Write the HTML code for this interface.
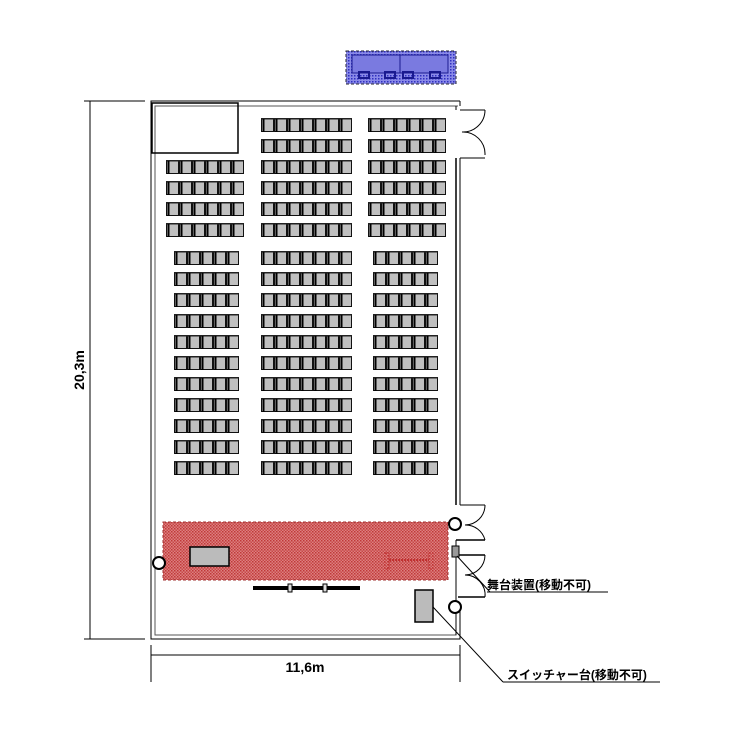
<!DOCTYPE html>
<html><head><meta charset="utf-8"><style>body{margin:0;background:#fff}svg{display:block}</style></head><body>
<svg width="750" height="750" viewBox="0 0 750 750" xmlns="http://www.w3.org/2000/svg">
<defs>
<pattern id="seat" width="13" height="21" patternUnits="userSpaceOnUse">
<rect x="0.5" y="0.5" width="12" height="13" fill="#c0c0c0" stroke="#111" stroke-width="1"/>
<rect x="0" y="0" width="13" height="1.5" fill="#222"/>
<rect x="1.5" y="1" width="2" height="13" fill="#000"/>
</pattern>
<pattern id="red" width="3" height="3" patternUnits="userSpaceOnUse">
<rect width="3" height="3" fill="#dc8080"/><rect width="1.5" height="1.5" fill="#c03838"/><rect x="1.5" y="1.5" width="1.5" height="1.5" fill="#c84848"/>
</pattern>
<pattern id="blue" width="3" height="3" patternUnits="userSpaceOnUse">
<rect width="3" height="3" fill="#8a8ae8"/><rect width="1.5" height="1.5" fill="#3030c0"/>
</pattern>
</defs>
<!-- blue -->
<rect x="346" y="51" width="110" height="33" fill="url(#blue)" stroke="#223" stroke-dasharray="3,2"/>
<rect x="352" y="55" width="96" height="18" fill="#7a7ae0" stroke="#1a1a90"/>
<line x1="400" y1="55" x2="400" y2="73" stroke="#1a1a90"/>
<g fill="none" stroke="#1a1a90" stroke-width="2"><rect x="359" y="72" width="10" height="6"/><rect x="385" y="72" width="10" height="6"/><rect x="403" y="72" width="10" height="6"/><rect x="430" y="72" width="10" height="6"/></g>
<!-- walls -->
<g fill="none" stroke="#000">
<path d="M460,101 H151 V639 H460 V610"/>
<path d="M458,106 H155 V635 H456 V610" stroke="#555"/>
<path d="M460,101 V106 M456,106 V110"/>
<line x1="456" y1="158" x2="456" y2="505" stroke-width="1.5"/>
<line x1="460" y1="158" x2="460" y2="505"/>
<line x1="460" y1="158" x2="485" y2="158"/><line x1="460" y1="110" x2="485" y2="110"/>
<path d="M485,110 A22,22 0 0 1 462,132 A22,22 0 0 1 485,155"/>
<line x1="460" y1="505" x2="485" y2="505"/>
<path d="M485,505 A20,20 0 0 1 465,525 A20,20 0 0 1 485,540"/>
<line x1="456" y1="540" x2="485" y2="540" stroke-width="1.5"/>
<line x1="458" y1="555" x2="485" y2="555" stroke-width="1.5"/>
<path d="M485,555 A20,20 0 0 1 465,575 A20,20 0 0 1 485,597"/>
<line x1="458" y1="597" x2="485" y2="597" stroke-width="1.5"/>
<line x1="456" y1="540" x2="456" y2="635"/>
<rect x="152" y="103" width="86" height="50" stroke-width="1.5"/>
</g>
<!-- seats -->
<g transform="translate(166,160)"><rect width="78" height="77" fill="url(#seat)"/></g>
<g transform="translate(261,118)"><rect width="91" height="119" fill="url(#seat)"/></g>
<g transform="translate(368,118)"><rect width="78" height="119" fill="url(#seat)"/></g>
<g transform="translate(174,251)"><rect width="65" height="224" fill="url(#seat)"/></g>
<g transform="translate(261,251)"><rect width="91" height="224" fill="url(#seat)"/></g>
<g transform="translate(373,251)"><rect width="65" height="224" fill="url(#seat)"/></g>
<!-- stage -->
<rect x="163" y="522" width="285" height="58" fill="url(#red)" stroke="#a03030" stroke-dasharray="3,2"/>
<rect x="190" y="547" width="39" height="19" fill="#bbb" stroke="#000" stroke-width="1.5"/>
<g stroke="#c03030" fill="none" stroke-dasharray="2,1"><rect x="385" y="553" width="4" height="16"/><rect x="429" y="553" width="4" height="16"/><line x1="389" y1="560" x2="429" y2="560" stroke-width="2"/></g>
<rect x="253" y="586" width="107" height="4" fill="#000"/>
<rect x="288" y="584" width="4" height="8" fill="#ddd" stroke="#000"/><rect x="323" y="584" width="4" height="8" fill="#ddd" stroke="#000"/>
<rect x="415" y="590" width="18" height="32" fill="#bbb" stroke="#000" stroke-width="1.5"/>
<g fill="#fff" stroke="#000" stroke-width="2">
<circle cx="455" cy="524" r="6"/><circle cx="455" cy="607" r="6"/><circle cx="159" cy="563" r="6"/>
</g>
<rect x="452" y="546" width="7" height="11" fill="#999" stroke="#000"/>
<!-- leaders -->
<g stroke="#000" fill="none">
<line x1="457" y1="556" x2="490" y2="592"/><line x1="487" y1="592" x2="608" y2="592"/>
<line x1="433" y1="607" x2="503" y2="682"/><line x1="503" y1="682" x2="660" y2="682"/>
</g>
<!-- dimensions -->
<g stroke="#000">
<line x1="90" y1="101" x2="90" y2="639"/><line x1="84" y1="101" x2="145" y2="101"/><line x1="84" y1="639" x2="145" y2="639"/>
<line x1="151" y1="655" x2="460" y2="655"/><line x1="151" y1="645" x2="151" y2="682"/><line x1="460" y1="645" x2="460" y2="682"/>
</g>
<g font-family="'Liberation Sans','Noto Sans CJK JP',sans-serif" font-weight="bold" fill="#000">
<text x="0" y="0" font-size="14" text-anchor="middle" transform="translate(84,370) rotate(-90)">20,3m</text>
<text x="305" y="672" font-size="14" text-anchor="middle">11,6m</text>
<text x="487" y="589" font-size="12">舞台装置(移動不可)</text>
<text x="507" y="679" font-size="12">スイッチャー台(移動不可)</text>
</g>
</svg>
</body></html>
